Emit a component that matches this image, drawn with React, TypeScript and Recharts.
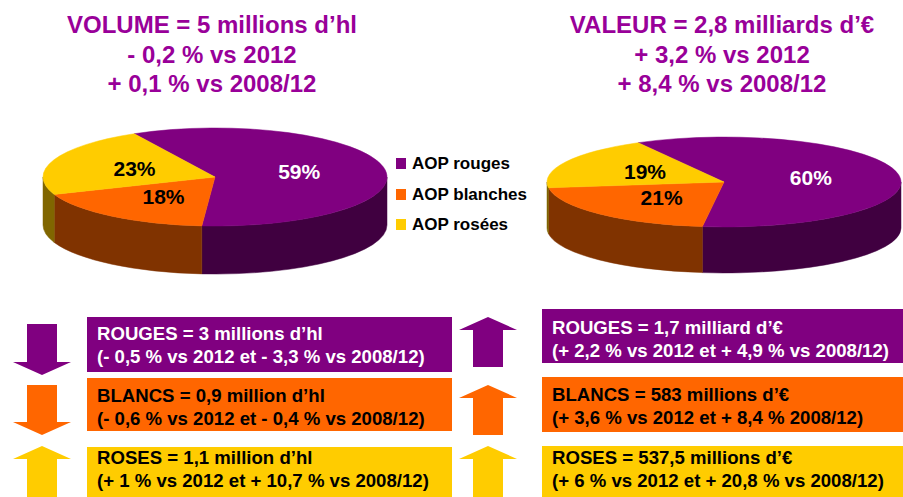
import React from "react";
import { PieChart, Pie, Cell } from "recharts";

const SEGMENTS = ["AOP rouges", "AOP blanches", "AOP rosées"];
const VOLUME_SHARE = [59, 18, 23];
const VALUE_SHARE = [60, 21, 19];

const VOLUME_TITLE = ["VOLUME = 5 millions d’hl", "- 0,2 % vs 2012", "+ 0,1 % vs 2008/12"];
const VALUE_TITLE = ["VALEUR = 2,8 milliards d’€", "+ 3,2 % vs 2012", "+ 8,4 % vs 2008/12"];

const VOLUME_LINES = [
  ["ROUGES = 3 millions d’hl", "(- 0,5 % vs 2012 et - 3,3 % vs 2008/12)"],
  ["BLANCS = 0,9 million d’hl", "(- 0,6 % vs 2012 et - 0,4 % vs 2008/12)"],
  ["ROSES = 1,1 million d’hl", "(+ 1 % vs 2012 et + 10,7 % vs 2008/12)"],
];
const VALUE_LINES = [
  ["ROUGES = 1,7 milliard d’€", "(+ 2,2 % vs 2012 et + 4,9 % vs 2008/12)"],
  ["BLANCS = 583 millions d’€", "(+ 3,6 % vs 2012 et + 8,4 % 2008/12)"],
  ["ROSES = 537,5 millions d’€", "(+ 6 % vs 2012 et + 20,8 % vs 2008/12)"],
];
const VOLUME_TREND = ["down", "down", "up"];
const VALUE_TREND = ["up", "up", "up"];

const COLORS = ["#800080", "#FF6600", "#FFCC00"];
const SIDE: Record<string, string> = {
  "#800080": "#400040",
  "#FF6600": "#803300",
  "#FFCC00": "#806600",
};
const TEXT_ON = ["#FFFFFF", "#000000", "#000000"];
const TITLE_COLOR = "#990099";
const FONT = '"Liberation Sans", Arial, sans-serif';

const volumeData = SEGMENTS.map((name, i) => ({ name, value: VOLUME_SHARE[i] }));
const valueData = SEGMENTS.map((name, i) => ({ name, value: VALUE_SHARE[i] }));

const RAD = Math.PI / 180;

function pt(cx: number, cy: number, rx: number, ry: number, a: number) {
  return [cx + rx * Math.cos(a * RAD), cy - ry * Math.sin(a * RAD)];
}

// flat sector -> tilted sector with a visible rim underneath
function make3D(ratio: number, depth: number) {
  return (props: any) => {
    const { cx, cy, outerRadius, startAngle, endAngle, fill } = props;
    const rx = outerRadius;
    const ry = outerRadius * ratio;
    const hi = Math.max(startAngle, endAngle);
    const lo = Math.min(startAngle, endAngle);
    const [x1, y1] = pt(cx, cy, rx, ry, hi);
    const [x2, y2] = pt(cx, cy, rx, ry, lo);
    const large = hi - lo > 180 ? 1 : 0;
    const top = `M${cx},${cy} L${x1},${y1} A${rx},${ry} 0 ${large} 1 ${x2},${y2} Z`;

    const sides: string[] = [];
    for (let k = -2; k <= 2; k++) {
      const a = Math.max(lo, -180 + 360 * k);
      const b = Math.min(hi, 360 * k);
      if (b > a) {
        const [bx, by] = pt(cx, cy, rx, ry, b);
        const [ax, ay] = pt(cx, cy, rx, ry, a);
        sides.push(
          `M${bx},${by} A${rx},${ry} 0 0 1 ${ax},${ay} L${ax},${ay + depth} A${rx},${ry} 0 0 0 ${bx},${by + depth} Z`
        );
      }
    }
    const dark = SIDE[fill] || fill;
    return (
      <g>
        {sides.map((d, i) => (
          <path key={i} d={d} fill={dark} stroke={dark} strokeWidth={0.5} />
        ))}
        <path d={top} fill={fill} stroke={fill} strokeWidth={0.5} />
      </g>
    );
  };
}

function makeLabel(ratio: number) {
  return (props: any) => {
    const { cx, cy, midAngle, outerRadius, index, value } = props;
    const [x, y] = pt(cx, cy, outerRadius * 0.5, outerRadius * ratio * 0.5, midAngle);
    return (
      <text
        x={x}
        y={y}
        fill={TEXT_ON[index]}
        textAnchor="middle"
        dominantBaseline="central"
        style={{ fontFamily: FONT, fontWeight: "bold", fontSize: 21 }}
      >
        {`${value}%`}
      </text>
    );
  };
}

function Arrow({ x, top, bottom, dir, color }: any) {
  const head = 13;
  const hw = 29;
  const sw = 15;
  let pts: string;
  if (dir === "down") {
    const hb = bottom - head;
    pts = `${x - sw},${top} ${x + sw},${top} ${x + sw},${hb} ${x + hw},${hb} ${x},${bottom} ${x - hw},${hb} ${x - sw},${hb}`;
  } else {
    const hb = top + head;
    pts = `${x},${top} ${x + hw},${hb} ${x + sw},${hb} ${x + sw},${bottom} ${x - sw},${bottom} ${x - sw},${hb} ${x - hw},${hb}`;
  }
  return <polygon points={pts} fill={color} />;
}

const LEFT_BOXES = [
  { top: 317, height: 55, text: 333 },
  { top: 378, height: 53, text: 395 },
  { top: 447, height: 60, text: 457 },
];
const RIGHT_BOXES = [
  { top: 309, height: 54, text: 327 },
  { top: 377, height: 55, text: 394 },
  { top: 446, height: 60, text: 457 },
];
const LEFT_ARROWS = [
  { top: 324, bottom: 375 },
  { top: 385, bottom: 435 },
  { top: 446, bottom: 510 },
];
const RIGHT_ARROWS = [
  { top: 317, bottom: 367 },
  { top: 385, bottom: 435 },
  { top: 446, bottom: 510 },
];

function Title({ lines, cx }: { lines: string[]; cx: number }) {
  return (
    <>
      {lines.map((t, i) => (
        <div
          key={i}
          style={{
            position: "absolute",
            left: cx - 250,
            width: 500,
            top: 25 + i * 29.5 - 15,
            height: 30,
            lineHeight: "30px",
            textAlign: "center",
            color: TITLE_COLOR,
            fontSize: 24,
            fontWeight: "bold",
            whiteSpace: "nowrap",
          }}
        >
          {t}
        </div>
      ))}
    </>
  );
}

function Boxes({ lines, boxes, left, width }: any) {
  return (
    <>
      {boxes.map((b: any, i: number) => (
        <div
          key={i}
          style={{
            position: "absolute",
            left,
            width,
            top: b.top,
            height: b.height,
            background: COLORS[i],
          }}
        >
          {lines[i].map((t: string, j: number) => (
            <div
              key={j}
              style={{
                position: "absolute",
                left: 10,
                top: b.text - b.top - 11.5 + j * 23,
                height: 23,
                lineHeight: "23px",
                fontSize: 18.6,
                fontWeight: "bold",
                color: TEXT_ON[i],
                whiteSpace: "nowrap",
              }}
            >
              {t}
            </div>
          ))}
        </div>
      ))}
    </>
  );
}

export default function App() {
  return (
    <div
      style={{
        position: "absolute",
        left: 0,
        top: 0,
        width: 903,
        height: 497,
        overflow: "hidden",
        background: "#FFFFFF",
        fontFamily: FONT,
      }}
    >
      <Title lines={VOLUME_TITLE} cx={212} />
      <Title lines={VALUE_TITLE} cx={722} />

      <div style={{ position: "absolute", left: 0, top: 0 }}>
        <PieChart width={903} height={300} margin={{ top: 0, right: 0, bottom: 0, left: 0 }}>
          <Pie
            data={volumeData}
            dataKey="value"
            nameKey="name"
            cx={215}
            cy={177}
            outerRadius={172}
            startAngle={118}
            endAngle={-242}
            shape={make3D(0.285, 48)}
            label={makeLabel(0.285)}
            labelLine={false}
            isAnimationActive={false}
          >
            {volumeData.map((d, i) => (
              <Cell key={d.name} fill={COLORS[i]} />
            ))}
          </Pie>
          <Pie
            data={valueData}
            dataKey="value"
            nameKey="name"
            cx={724}
            cy={182}
            outerRadius={177}
            startAngle={119}
            endAngle={-241}
            shape={make3D(0.254, 46)}
            label={makeLabel(0.254)}
            labelLine={false}
            isAnimationActive={false}
          >
            {valueData.map((d, i) => (
              <Cell key={d.name} fill={COLORS[i]} />
            ))}
          </Pie>
        </PieChart>
      </div>

      {SEGMENTS.map((s, i) => (
        <div key={s} style={{ position: "absolute", left: 396, top: 164 + i * 30.5 - 12, height: 24 }}>
          <div
            style={{
              position: "absolute",
              left: 0,
              top: 6,
              width: 10,
              height: 11,
              background: COLORS[i],
            }}
          />
          <div
            style={{
              position: "absolute",
              left: 16,
              top: 0,
              lineHeight: "24px",
              fontSize: 17,
              fontWeight: "bold",
              color: "#000",
              whiteSpace: "nowrap",
            }}
          >
            {s}
          </div>
        </div>
      ))}

      <Boxes lines={VOLUME_LINES} boxes={LEFT_BOXES} left={87} width={365} />
      <Boxes lines={VALUE_LINES} boxes={RIGHT_BOXES} left={542} width={370} />

      <svg width={903} height={497} style={{ position: "absolute", left: 0, top: 0 }}>
        {LEFT_ARROWS.map((a, i) => (
          <Arrow key={i} x={42} top={a.top} bottom={a.bottom} dir={VOLUME_TREND[i]} color={COLORS[i]} />
        ))}
        {RIGHT_ARROWS.map((a, i) => (
          <Arrow key={i} x={488} top={a.top} bottom={a.bottom} dir={VALUE_TREND[i]} color={COLORS[i]} />
        ))}
      </svg>
    </div>
  );
}
